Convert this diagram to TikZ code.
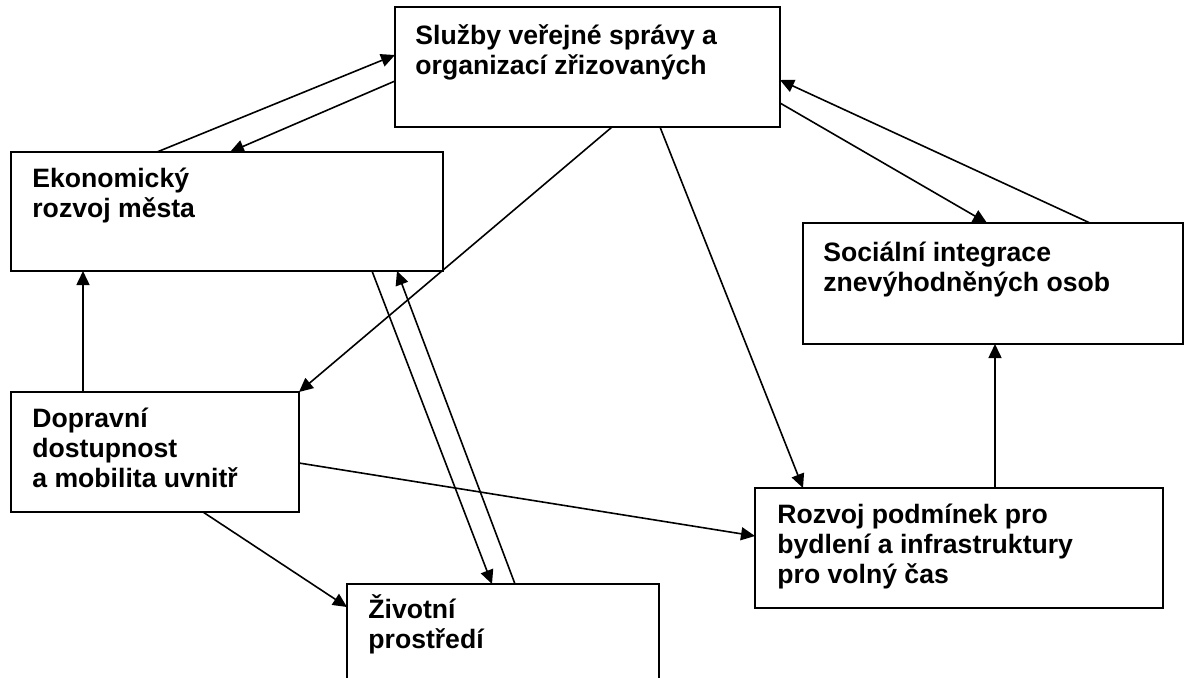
\documentclass[tikz,border=0pt]{standalone}
\usepackage{fontspec}
\setmainfont{Liberation Sans}
\usetikzlibrary{arrows.meta}
\tikzset{>={Triangle[length=7pt,width=6.5pt]}}
\tikzset{
  box/.style = {draw, line width=1pt, inner sep=0pt, outer sep=0pt, anchor=north west},
  boxtext/.style = {anchor=base west, inner sep=0pt, font=\fontsize{13.3}{15}\selectfont\bfseries},
  link/.style = {->, line width=0.8pt}
}
\newcommand{\boxlines}[1]{\begin{tabular}[t]{@{}l@{}}#1\end{tabular}}

\begin{document}
\begin{tikzpicture}[x=0.5pt,y=-0.5pt]
  \useasboundingbox (0,0) rectangle (1185,677);
  % boxes
  \node (sluzby) at (395,7)   [box, minimum width=192.5pt, minimum height=60pt] {};
  \node (ekon)   at (11,152)  [box, minimum width=216pt, minimum height=59.5pt] {};
  \node (soc)    at (803,223) [box, minimum width=190pt, minimum height=60.5pt] {};
  \node (doprav) at (11,392)  [box, minimum width=144pt, minimum height=60pt] {};
  \node (rozvoj) at (755,488) [box, minimum width=204pt, minimum height=60pt] {};
  \node (zivot)  at (347,584) [box, minimum width=156pt, minimum height=60pt] {};
  % texts
  \node (sluzby-t) at (415,44)  [boxtext] {\boxlines{Služby veřejné správy a\\organizací zřizovaných}};
  \node (ekon-t)   at (32,187)  [boxtext] {\boxlines{Ekonomický\\rozvoj města}};
  \node (soc-t)    at (823,261) [boxtext] {\boxlines{Sociální integrace\\znevýhodněných osob}};
  \node (doprav-t) at (32,427)  [boxtext] {\boxlines{Dopravní\\dostupnost\\a mobilita uvnitř}};
  \node (rozvoj-t) at (777,523) [boxtext] {\boxlines{Rozvoj podmínek pro\\bydlení a infrastruktury\\pro volný čas}};
  \node (zivot-t)  at (368,618) [boxtext] {\boxlines{Životní\\prostředí}};
  % links
  \draw[link] (ekon.north -| 157,0) -- (sluzby.west |- 0,55);
  \draw[link] (sluzby.west |- 0,81) -- (ekon.north -| 230,0);
  \draw[link] (sluzby.south -| 612,0) -- (doprav.north east);
  \draw[link] (ekon.south -| 372,0) -- (zivot.north -| 492,0);
  \draw[link] (zivot.north -| 515,0) -- (ekon.south -| 397,0);
  \draw[link] (doprav.north -| 83,0) -- (ekon.south -| 83,0);
  \draw[link] (doprav.south -| 203,0) -- (zivot.west |- 0,607);
  \draw[link] (doprav.east |- 0,463) -- (rozvoj.west |- 0,536);
  \draw[link] (sluzby.south -| 660,0) -- (rozvoj.north -| 803,0);
  \draw[link] (sluzby.east |- 0,103) -- (soc.north -| 987,0);
  \draw[link] (soc.north -| 1090,0) -- (sluzby.east |- 0,80);
  \draw[link] (rozvoj.north -| 995,0) -- (soc.south -| 995,0);
\end{tikzpicture}
\end{document}
